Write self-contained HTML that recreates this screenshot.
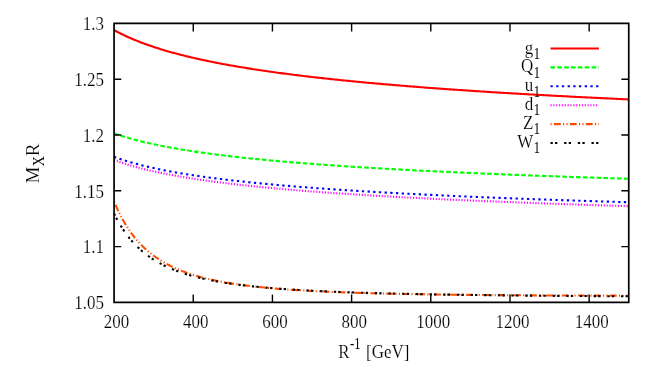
<!DOCTYPE html>
<html><head><meta charset="utf-8"><title>plot</title>
<style>html,body{margin:0;padding:0;background:#fff;}body{width:654px;height:382px;overflow:hidden;}svg{display:block;will-change:transform;}text{font-family:"Liberation Serif",serif;fill:#000;stroke:#fff;stroke-width:0.16px;paint-order:fill stroke;}text.s{stroke:none;}</style>
</head><body>
<svg width="654" height="382" viewBox="0 0 654 382">
<rect x="0" y="0" width="654" height="382" fill="#ffffff"/>
<g fill="none" stroke-width="2.10" stroke-linecap="butt" stroke-linejoin="round">
<path d="M114.10 30.11 L115.82 31.04 L117.54 31.96 L119.27 32.85 L120.99 33.71 L122.71 34.56 L124.43 35.38 L126.15 36.19 L127.88 36.97 L129.60 37.74 L131.32 38.49 L133.04 39.23 L134.76 39.94 L136.49 40.64 L138.21 41.33 L139.93 42.00 L141.65 42.66 L143.38 43.31 L145.10 43.94 L146.82 44.56 L148.54 45.17 L150.26 45.77 L151.99 46.35 L153.71 46.93 L155.43 47.49 L157.15 48.05 L158.87 48.59 L160.60 49.13 L162.32 49.66 L164.04 50.17 L165.76 50.68 L167.48 51.18 L169.21 51.68 L170.93 52.16 L172.65 52.64 L174.37 53.11 L176.09 53.57 L177.82 54.03 L179.54 54.48 L181.26 54.92 L182.98 55.35 L184.71 55.78 L186.43 56.21 L188.15 56.62 L189.87 57.04 L191.59 57.44 L193.32 57.84 L195.04 58.24 L196.76 58.63 L198.48 59.01 L200.20 59.39 L201.93 59.77 L203.65 60.14 L205.37 60.50 L207.09 60.86 L208.81 61.22 L210.54 61.57 L212.26 61.92 L213.98 62.26 L215.70 62.60 L217.42 62.94 L219.15 63.27 L220.87 63.60 L222.59 63.92 L224.31 64.24 L226.03 64.56 L227.76 64.87 L229.48 65.18 L231.20 65.49 L232.92 65.79 L234.65 66.09 L236.37 66.38 L238.09 66.68 L239.81 66.97 L241.53 67.26 L243.26 67.54 L244.98 67.82 L246.70 68.10 L248.42 68.38 L250.14 68.65 L251.87 68.92 L253.59 69.19 L255.31 69.45 L257.03 69.72 L258.75 69.98 L260.48 70.23 L262.20 70.49 L263.92 70.74 L265.64 70.99 L267.36 71.24 L269.09 71.49 L270.81 71.73 L272.53 71.97 L274.25 72.21 L275.97 72.45 L277.70 72.68 L279.42 72.92 L281.14 73.15 L282.86 73.38 L284.59 73.60 L286.31 73.83 L288.03 74.05 L289.75 74.27 L291.47 74.49 L293.20 74.71 L294.92 74.93 L296.64 75.14 L298.36 75.35 L300.08 75.57 L301.81 75.78 L303.53 75.98 L305.25 76.19 L306.97 76.39 L308.69 76.60 L310.42 76.80 L312.14 77.00 L313.86 77.19 L315.58 77.39 L317.30 77.59 L319.03 77.78 L320.75 77.97 L322.47 78.16 L324.19 78.35 L325.92 78.54 L327.64 78.73 L329.36 78.91 L331.08 79.10 L332.80 79.28 L334.53 79.46 L336.25 79.64 L337.97 79.82 L339.69 80.00 L341.41 80.17 L343.14 80.35 L344.86 80.52 L346.58 80.70 L348.30 80.87 L350.02 81.04 L351.75 81.21 L353.47 81.38 L355.19 81.54 L356.91 81.71 L358.63 81.87 L360.36 82.04 L362.08 82.20 L363.80 82.36 L365.52 82.52 L367.24 82.68 L368.97 82.84 L370.69 83.00 L372.41 83.16 L374.13 83.31 L375.86 83.47 L377.58 83.62 L379.30 83.77 L381.02 83.92 L382.74 84.08 L384.47 84.23 L386.19 84.37 L387.91 84.52 L389.63 84.67 L391.35 84.82 L393.08 84.96 L394.80 85.11 L396.52 85.25 L398.24 85.39 L399.96 85.54 L401.69 85.68 L403.41 85.82 L405.13 85.96 L406.85 86.10 L408.57 86.24 L410.30 86.37 L412.02 86.51 L413.74 86.65 L415.46 86.78 L417.18 86.92 L418.91 87.05 L420.63 87.18 L422.35 87.32 L424.07 87.45 L425.80 87.58 L427.52 87.71 L429.24 87.84 L430.96 87.97 L432.68 88.09 L434.41 88.22 L436.13 88.35 L437.85 88.47 L439.57 88.60 L441.29 88.72 L443.02 88.85 L444.74 88.97 L446.46 89.10 L448.18 89.22 L449.90 89.34 L451.63 89.46 L453.35 89.58 L455.07 89.70 L456.79 89.82 L458.51 89.94 L460.24 90.06 L461.96 90.17 L463.68 90.29 L465.40 90.41 L467.13 90.52 L468.85 90.64 L470.57 90.75 L472.29 90.87 L474.01 90.98 L475.74 91.09 L477.46 91.21 L479.18 91.32 L480.90 91.43 L482.62 91.54 L484.35 91.65 L486.07 91.76 L487.79 91.87 L489.51 91.98 L491.23 92.09 L492.96 92.19 L494.68 92.30 L496.40 92.41 L498.12 92.51 L499.84 92.62 L501.57 92.73 L503.29 92.83 L505.01 92.94 L506.73 93.04 L508.45 93.14 L510.18 93.25 L511.90 93.35 L513.62 93.45 L515.34 93.55 L517.07 93.65 L518.79 93.75 L520.51 93.86 L522.23 93.96 L523.95 94.05 L525.68 94.15 L527.40 94.25 L529.12 94.35 L530.84 94.45 L532.56 94.55 L534.29 94.64 L536.01 94.74 L537.73 94.84 L539.45 94.93 L541.17 95.03 L542.90 95.12 L544.62 95.22 L546.34 95.31 L548.06 95.41 L549.78 95.50 L551.51 95.59 L553.23 95.68 L554.95 95.78 L556.67 95.87 L558.39 95.96 L560.12 96.05 L561.84 96.14 L563.56 96.23 L565.28 96.32 L567.01 96.41 L568.73 96.50 L570.45 96.59 L572.17 96.68 L573.89 96.77 L575.62 96.86 L577.34 96.94 L579.06 97.03 L580.78 97.12 L582.50 97.21 L584.23 97.29 L585.95 97.38 L587.67 97.46 L589.39 97.55 L591.11 97.64 L592.84 97.72 L594.56 97.80 L596.28 97.89 L598.00 97.97 L599.72 98.06 L601.45 98.14 L603.17 98.22 L604.89 98.30 L606.61 98.39 L608.34 98.47 L610.06 98.55 L611.78 98.63 L613.50 98.71 L615.22 98.79 L616.95 98.87 L618.67 98.96 L620.39 99.04 L622.11 99.11 L623.83 99.19 L625.56 99.27 L627.28 99.35 L629.00 99.43" stroke="#ff0000"/>
<path d="M114.10 133.32 L115.82 133.93 L117.54 134.52 L119.27 135.10 L120.99 135.66 L122.71 136.20 L124.43 136.74 L126.15 137.26 L127.88 137.77 L129.60 138.26 L131.32 138.75 L133.04 139.22 L134.76 139.69 L136.49 140.14 L138.21 140.59 L139.93 141.03 L141.65 141.45 L143.38 141.87 L145.10 142.29 L146.82 142.69 L148.54 143.08 L150.26 143.47 L151.99 143.85 L153.71 144.23 L155.43 144.59 L157.15 144.96 L158.87 145.31 L160.60 145.66 L162.32 146.00 L164.04 146.34 L165.76 146.67 L167.48 147.00 L169.21 147.32 L170.93 147.63 L172.65 147.95 L174.37 148.25 L176.09 148.55 L177.82 148.85 L179.54 149.14 L181.26 149.43 L182.98 149.72 L184.71 150.00 L186.43 150.27 L188.15 150.55 L189.87 150.82 L191.59 151.08 L193.32 151.34 L195.04 151.60 L196.76 151.86 L198.48 152.11 L200.20 152.35 L201.93 152.60 L203.65 152.84 L205.37 153.08 L207.09 153.32 L208.81 153.55 L210.54 153.78 L212.26 154.01 L213.98 154.23 L215.70 154.45 L217.42 154.67 L219.15 154.89 L220.87 155.11 L222.59 155.32 L224.31 155.53 L226.03 155.74 L227.76 155.94 L229.48 156.14 L231.20 156.34 L232.92 156.54 L234.65 156.74 L236.37 156.93 L238.09 157.13 L239.81 157.32 L241.53 157.51 L243.26 157.69 L244.98 157.88 L246.70 158.06 L248.42 158.24 L250.14 158.42 L251.87 158.60 L253.59 158.77 L255.31 158.95 L257.03 159.12 L258.75 159.29 L260.48 159.46 L262.20 159.63 L263.92 159.79 L265.64 159.96 L267.36 160.12 L269.09 160.28 L270.81 160.44 L272.53 160.60 L274.25 160.76 L275.97 160.92 L277.70 161.07 L279.42 161.22 L281.14 161.38 L282.86 161.53 L284.59 161.68 L286.31 161.82 L288.03 161.97 L289.75 162.12 L291.47 162.26 L293.20 162.40 L294.92 162.55 L296.64 162.69 L298.36 162.83 L300.08 162.97 L301.81 163.10 L303.53 163.24 L305.25 163.38 L306.97 163.51 L308.69 163.65 L310.42 163.78 L312.14 163.91 L313.86 164.04 L315.58 164.17 L317.30 164.30 L319.03 164.43 L320.75 164.55 L322.47 164.68 L324.19 164.80 L325.92 164.93 L327.64 165.05 L329.36 165.17 L331.08 165.29 L332.80 165.41 L334.53 165.53 L336.25 165.65 L337.97 165.77 L339.69 165.89 L341.41 166.00 L343.14 166.12 L344.86 166.23 L346.58 166.35 L348.30 166.46 L350.02 166.57 L351.75 166.69 L353.47 166.80 L355.19 166.91 L356.91 167.02 L358.63 167.12 L360.36 167.23 L362.08 167.34 L363.80 167.45 L365.52 167.55 L367.24 167.66 L368.97 167.76 L370.69 167.87 L372.41 167.97 L374.13 168.07 L375.86 168.18 L377.58 168.28 L379.30 168.38 L381.02 168.48 L382.74 168.58 L384.47 168.68 L386.19 168.78 L387.91 168.87 L389.63 168.97 L391.35 169.07 L393.08 169.16 L394.80 169.26 L396.52 169.36 L398.24 169.45 L399.96 169.54 L401.69 169.64 L403.41 169.73 L405.13 169.82 L406.85 169.92 L408.57 170.01 L410.30 170.10 L412.02 170.19 L413.74 170.28 L415.46 170.37 L417.18 170.46 L418.91 170.55 L420.63 170.63 L422.35 170.72 L424.07 170.81 L425.80 170.89 L427.52 170.98 L429.24 171.07 L430.96 171.15 L432.68 171.24 L434.41 171.32 L436.13 171.40 L437.85 171.49 L439.57 171.57 L441.29 171.65 L443.02 171.74 L444.74 171.82 L446.46 171.90 L448.18 171.98 L449.90 172.06 L451.63 172.14 L453.35 172.22 L455.07 172.30 L456.79 172.38 L458.51 172.46 L460.24 172.53 L461.96 172.61 L463.68 172.69 L465.40 172.77 L467.13 172.84 L468.85 172.92 L470.57 173.00 L472.29 173.07 L474.01 173.15 L475.74 173.22 L477.46 173.30 L479.18 173.37 L480.90 173.44 L482.62 173.52 L484.35 173.59 L486.07 173.66 L487.79 173.74 L489.51 173.81 L491.23 173.88 L492.96 173.95 L494.68 174.02 L496.40 174.09 L498.12 174.16 L499.84 174.23 L501.57 174.30 L503.29 174.37 L505.01 174.44 L506.73 174.51 L508.45 174.58 L510.18 174.65 L511.90 174.72 L513.62 174.78 L515.34 174.85 L517.07 174.92 L518.79 174.99 L520.51 175.05 L522.23 175.12 L523.95 175.18 L525.68 175.25 L527.40 175.32 L529.12 175.38 L530.84 175.45 L532.56 175.51 L534.29 175.57 L536.01 175.64 L537.73 175.70 L539.45 175.77 L541.17 175.83 L542.90 175.89 L544.62 175.96 L546.34 176.02 L548.06 176.08 L549.78 176.14 L551.51 176.20 L553.23 176.27 L554.95 176.33 L556.67 176.39 L558.39 176.45 L560.12 176.51 L561.84 176.57 L563.56 176.63 L565.28 176.69 L567.01 176.75 L568.73 176.81 L570.45 176.87 L572.17 176.93 L573.89 176.99 L575.62 177.04 L577.34 177.10 L579.06 177.16 L580.78 177.22 L582.50 177.28 L584.23 177.33 L585.95 177.39 L587.67 177.45 L589.39 177.50 L591.11 177.56 L592.84 177.62 L594.56 177.67 L596.28 177.73 L598.00 177.79 L599.72 177.84 L601.45 177.90 L603.17 177.95 L604.89 178.01 L606.61 178.06 L608.34 178.12 L610.06 178.17 L611.78 178.22 L613.50 178.28 L615.22 178.33 L616.95 178.38 L618.67 178.44 L620.39 178.49 L622.11 178.54 L623.83 178.60 L625.56 178.65 L627.28 178.70 L629.00 178.75" stroke="#00ff00" stroke-dasharray="4.56 2.28"/>
<path d="M114.10 156.83 L115.82 157.46 L117.54 158.07 L119.27 158.67 L120.99 159.25 L122.71 159.81 L124.43 160.37 L126.15 160.90 L127.88 161.43 L129.60 161.94 L131.32 162.44 L133.04 162.93 L134.76 163.41 L136.49 163.88 L138.21 164.34 L139.93 164.78 L141.65 165.22 L143.38 165.65 L145.10 166.07 L146.82 166.49 L148.54 166.89 L150.26 167.29 L151.99 167.68 L153.71 168.06 L155.43 168.43 L157.15 168.80 L158.87 169.16 L160.60 169.52 L162.32 169.87 L164.04 170.21 L165.76 170.55 L167.48 170.88 L169.21 171.21 L170.93 171.53 L172.65 171.84 L174.37 172.15 L176.09 172.46 L177.82 172.76 L179.54 173.06 L181.26 173.35 L182.98 173.63 L184.71 173.92 L186.43 174.20 L188.15 174.47 L189.87 174.74 L191.59 175.01 L193.32 175.28 L195.04 175.54 L196.76 175.79 L198.48 176.04 L200.20 176.29 L201.93 176.54 L203.65 176.78 L205.37 177.02 L207.09 177.26 L208.81 177.50 L210.54 177.73 L212.26 177.96 L213.98 178.18 L215.70 178.40 L217.42 178.62 L219.15 178.84 L220.87 179.06 L222.59 179.27 L224.31 179.48 L226.03 179.69 L227.76 179.89 L229.48 180.09 L231.20 180.30 L232.92 180.49 L234.65 180.69 L236.37 180.88 L238.09 181.08 L239.81 181.27 L241.53 181.45 L243.26 181.64 L244.98 181.82 L246.70 182.01 L248.42 182.19 L250.14 182.37 L251.87 182.54 L253.59 182.72 L255.31 182.89 L257.03 183.06 L258.75 183.23 L260.48 183.40 L262.20 183.57 L263.92 183.73 L265.64 183.90 L267.36 184.06 L269.09 184.22 L270.81 184.38 L272.53 184.53 L274.25 184.69 L275.97 184.85 L277.70 185.00 L279.42 185.15 L281.14 185.30 L282.86 185.45 L284.59 185.60 L286.31 185.75 L288.03 185.89 L289.75 186.03 L291.47 186.18 L293.20 186.32 L294.92 186.46 L296.64 186.60 L298.36 186.74 L300.08 186.88 L301.81 187.01 L303.53 187.15 L305.25 187.28 L306.97 187.41 L308.69 187.54 L310.42 187.68 L312.14 187.81 L313.86 187.93 L315.58 188.06 L317.30 188.19 L319.03 188.31 L320.75 188.44 L322.47 188.56 L324.19 188.69 L325.92 188.81 L327.64 188.93 L329.36 189.05 L331.08 189.17 L332.80 189.29 L334.53 189.40 L336.25 189.52 L337.97 189.64 L339.69 189.75 L341.41 189.87 L343.14 189.98 L344.86 190.09 L346.58 190.21 L348.30 190.32 L350.02 190.43 L351.75 190.54 L353.47 190.65 L355.19 190.75 L356.91 190.86 L358.63 190.97 L360.36 191.07 L362.08 191.18 L363.80 191.28 L365.52 191.39 L367.24 191.49 L368.97 191.59 L370.69 191.70 L372.41 191.80 L374.13 191.90 L375.86 192.00 L377.58 192.10 L379.30 192.20 L381.02 192.30 L382.74 192.39 L384.47 192.49 L386.19 192.59 L387.91 192.68 L389.63 192.78 L391.35 192.87 L393.08 192.97 L394.80 193.06 L396.52 193.15 L398.24 193.25 L399.96 193.34 L401.69 193.43 L403.41 193.52 L405.13 193.61 L406.85 193.70 L408.57 193.79 L410.30 193.88 L412.02 193.97 L413.74 194.05 L415.46 194.14 L417.18 194.23 L418.91 194.31 L420.63 194.40 L422.35 194.48 L424.07 194.57 L425.80 194.65 L427.52 194.74 L429.24 194.82 L430.96 194.90 L432.68 194.99 L434.41 195.07 L436.13 195.15 L437.85 195.23 L439.57 195.31 L441.29 195.39 L443.02 195.47 L444.74 195.55 L446.46 195.63 L448.18 195.71 L449.90 195.79 L451.63 195.87 L453.35 195.94 L455.07 196.02 L456.79 196.10 L458.51 196.17 L460.24 196.25 L461.96 196.33 L463.68 196.40 L465.40 196.48 L467.13 196.55 L468.85 196.63 L470.57 196.70 L472.29 196.77 L474.01 196.85 L475.74 196.92 L477.46 196.99 L479.18 197.06 L480.90 197.13 L482.62 197.21 L484.35 197.28 L486.07 197.35 L487.79 197.42 L489.51 197.49 L491.23 197.56 L492.96 197.63 L494.68 197.69 L496.40 197.76 L498.12 197.83 L499.84 197.90 L501.57 197.97 L503.29 198.03 L505.01 198.10 L506.73 198.17 L508.45 198.24 L510.18 198.30 L511.90 198.37 L513.62 198.43 L515.34 198.50 L517.07 198.56 L518.79 198.63 L520.51 198.69 L522.23 198.76 L523.95 198.82 L525.68 198.88 L527.40 198.95 L529.12 199.01 L530.84 199.07 L532.56 199.14 L534.29 199.20 L536.01 199.26 L537.73 199.32 L539.45 199.38 L541.17 199.44 L542.90 199.51 L544.62 199.57 L546.34 199.63 L548.06 199.69 L549.78 199.75 L551.51 199.81 L553.23 199.87 L554.95 199.93 L556.67 199.98 L558.39 200.04 L560.12 200.10 L561.84 200.16 L563.56 200.22 L565.28 200.28 L567.01 200.33 L568.73 200.39 L570.45 200.45 L572.17 200.50 L573.89 200.56 L575.62 200.62 L577.34 200.67 L579.06 200.73 L580.78 200.79 L582.50 200.84 L584.23 200.90 L585.95 200.95 L587.67 201.01 L589.39 201.06 L591.11 201.12 L592.84 201.17 L594.56 201.22 L596.28 201.28 L598.00 201.33 L599.72 201.39 L601.45 201.44 L603.17 201.49 L604.89 201.54 L606.61 201.60 L608.34 201.65 L610.06 201.70 L611.78 201.75 L613.50 201.81 L615.22 201.86 L616.95 201.91 L618.67 201.96 L620.39 202.01 L622.11 202.06 L623.83 202.11 L625.56 202.16 L627.28 202.21 L629.00 202.26" stroke="#0000ff" stroke-dasharray="2.28 3.42"/>
<path d="M114.10 159.95 L115.82 160.59 L117.54 161.22 L119.27 161.82 L120.99 162.42 L122.71 162.99 L124.43 163.55 L126.15 164.10 L127.88 164.63 L129.60 165.16 L131.32 165.66 L133.04 166.16 L134.76 166.65 L136.49 167.13 L138.21 167.59 L139.93 168.05 L141.65 168.49 L143.38 168.93 L145.10 169.36 L146.82 169.78 L148.54 170.19 L150.26 170.59 L151.99 170.99 L153.71 171.38 L155.43 171.76 L157.15 172.13 L158.87 172.50 L160.60 172.86 L162.32 173.22 L164.04 173.56 L165.76 173.91 L167.48 174.24 L169.21 174.58 L170.93 174.90 L172.65 175.22 L174.37 175.54 L176.09 175.85 L177.82 176.16 L179.54 176.46 L181.26 176.76 L182.98 177.05 L184.71 177.34 L186.43 177.62 L188.15 177.90 L189.87 178.18 L191.59 178.45 L193.32 178.72 L195.04 178.98 L196.76 179.24 L198.48 179.50 L200.20 179.75 L201.93 180.00 L203.65 180.25 L205.37 180.50 L207.09 180.74 L208.81 180.97 L210.54 181.21 L212.26 181.44 L213.98 181.67 L215.70 181.90 L217.42 182.12 L219.15 182.34 L220.87 182.56 L222.59 182.78 L224.31 182.99 L226.03 183.20 L227.76 183.41 L229.48 183.62 L231.20 183.82 L232.92 184.02 L234.65 184.22 L236.37 184.42 L238.09 184.62 L239.81 184.81 L241.53 185.00 L243.26 185.19 L244.98 185.38 L246.70 185.56 L248.42 185.75 L250.14 185.93 L251.87 186.11 L253.59 186.29 L255.31 186.46 L257.03 186.64 L258.75 186.81 L260.48 186.98 L262.20 187.15 L263.92 187.32 L265.64 187.48 L267.36 187.65 L269.09 187.81 L270.81 187.97 L272.53 188.13 L274.25 188.29 L275.97 188.45 L277.70 188.61 L279.42 188.76 L281.14 188.91 L282.86 189.07 L284.59 189.22 L286.31 189.36 L288.03 189.51 L289.75 189.66 L291.47 189.80 L293.20 189.95 L294.92 190.09 L296.64 190.23 L298.36 190.37 L300.08 190.51 L301.81 190.65 L303.53 190.79 L305.25 190.93 L306.97 191.06 L308.69 191.20 L310.42 191.33 L312.14 191.46 L313.86 191.59 L315.58 191.72 L317.30 191.85 L319.03 191.98 L320.75 192.10 L322.47 192.23 L324.19 192.36 L325.92 192.48 L327.64 192.60 L329.36 192.73 L331.08 192.85 L332.80 192.97 L334.53 193.09 L336.25 193.21 L337.97 193.32 L339.69 193.44 L341.41 193.56 L343.14 193.67 L344.86 193.79 L346.58 193.90 L348.30 194.01 L350.02 194.13 L351.75 194.24 L353.47 194.35 L355.19 194.46 L356.91 194.57 L358.63 194.68 L360.36 194.79 L362.08 194.89 L363.80 195.00 L365.52 195.10 L367.24 195.21 L368.97 195.31 L370.69 195.42 L372.41 195.52 L374.13 195.62 L375.86 195.73 L377.58 195.83 L379.30 195.93 L381.02 196.03 L382.74 196.13 L384.47 196.22 L386.19 196.32 L387.91 196.42 L389.63 196.52 L391.35 196.61 L393.08 196.71 L394.80 196.80 L396.52 196.90 L398.24 196.99 L399.96 197.09 L401.69 197.18 L403.41 197.27 L405.13 197.36 L406.85 197.46 L408.57 197.55 L410.30 197.64 L412.02 197.73 L413.74 197.82 L415.46 197.90 L417.18 197.99 L418.91 198.08 L420.63 198.17 L422.35 198.25 L424.07 198.34 L425.80 198.43 L427.52 198.51 L429.24 198.60 L430.96 198.68 L432.68 198.76 L434.41 198.85 L436.13 198.93 L437.85 199.01 L439.57 199.10 L441.29 199.18 L443.02 199.26 L444.74 199.34 L446.46 199.42 L448.18 199.50 L449.90 199.58 L451.63 199.66 L453.35 199.74 L455.07 199.82 L456.79 199.90 L458.51 199.97 L460.24 200.05 L461.96 200.13 L463.68 200.20 L465.40 200.28 L467.13 200.36 L468.85 200.43 L470.57 200.51 L472.29 200.58 L474.01 200.65 L475.74 200.73 L477.46 200.80 L479.18 200.88 L480.90 200.95 L482.62 201.02 L484.35 201.09 L486.07 201.16 L487.79 201.24 L489.51 201.31 L491.23 201.38 L492.96 201.45 L494.68 201.52 L496.40 201.59 L498.12 201.66 L499.84 201.73 L501.57 201.80 L503.29 201.86 L505.01 201.93 L506.73 202.00 L508.45 202.07 L510.18 202.14 L511.90 202.20 L513.62 202.27 L515.34 202.34 L517.07 202.40 L518.79 202.47 L520.51 202.53 L522.23 202.60 L523.95 202.66 L525.68 202.73 L527.40 202.79 L529.12 202.86 L530.84 202.92 L532.56 202.98 L534.29 203.05 L536.01 203.11 L537.73 203.17 L539.45 203.24 L541.17 203.30 L542.90 203.36 L544.62 203.42 L546.34 203.48 L548.06 203.55 L549.78 203.61 L551.51 203.67 L553.23 203.73 L554.95 203.79 L556.67 203.85 L558.39 203.91 L560.12 203.97 L561.84 204.03 L563.56 204.08 L565.28 204.14 L567.01 204.20 L568.73 204.26 L570.45 204.32 L572.17 204.38 L573.89 204.43 L575.62 204.49 L577.34 204.55 L579.06 204.61 L580.78 204.66 L582.50 204.72 L584.23 204.78 L585.95 204.83 L587.67 204.89 L589.39 204.94 L591.11 205.00 L592.84 205.05 L594.56 205.11 L596.28 205.16 L598.00 205.22 L599.72 205.27 L601.45 205.33 L603.17 205.38 L604.89 205.43 L606.61 205.49 L608.34 205.54 L610.06 205.59 L611.78 205.65 L613.50 205.70 L615.22 205.75 L616.95 205.80 L618.67 205.86 L620.39 205.91 L622.11 205.96 L623.83 206.01 L625.56 206.06 L627.28 206.12 L629.00 206.17" stroke="#ff00ff" stroke-dasharray="1.14 1.71"/>
<path d="M114.10 201.57 L115.82 205.61 L117.54 209.42 L119.27 213.01 L120.99 216.38 L122.71 219.57 L124.43 222.59 L126.15 225.43 L127.88 228.13 L129.60 230.68 L131.32 233.11 L133.04 235.40 L134.76 237.59 L136.49 239.66 L138.21 241.63 L139.93 243.51 L141.65 245.30 L143.38 247.01 L145.10 248.64 L146.82 250.19 L148.54 251.68 L150.26 253.10 L151.99 254.46 L153.71 255.76 L155.43 257.00 L157.15 258.19 L158.87 259.34 L160.60 260.43 L162.32 261.49 L164.04 262.50 L165.76 263.47 L167.48 264.40 L169.21 265.30 L170.93 266.16 L172.65 266.99 L174.37 267.79 L176.09 268.57 L177.82 269.31 L179.54 270.02 L181.26 270.72 L182.98 271.38 L184.71 272.03 L186.43 272.65 L188.15 273.25 L189.87 273.83 L191.59 274.39 L193.32 274.93 L195.04 275.45 L196.76 275.96 L198.48 276.45 L200.20 276.93 L201.93 277.39 L203.65 277.83 L205.37 278.26 L207.09 278.68 L208.81 279.09 L210.54 279.48 L212.26 279.87 L213.98 280.24 L215.70 280.60 L217.42 280.94 L219.15 281.28 L220.87 281.61 L222.59 281.93 L224.31 282.24 L226.03 282.55 L227.76 282.84 L229.48 283.13 L231.20 283.41 L232.92 283.68 L234.65 283.94 L236.37 284.19 L238.09 284.44 L239.81 284.69 L241.53 284.92 L243.26 285.15 L244.98 285.38 L246.70 285.60 L248.42 285.81 L250.14 286.02 L251.87 286.22 L253.59 286.42 L255.31 286.61 L257.03 286.80 L258.75 286.98 L260.48 287.16 L262.20 287.33 L263.92 287.50 L265.64 287.67 L267.36 287.83 L269.09 287.99 L270.81 288.14 L272.53 288.30 L274.25 288.44 L275.97 288.59 L277.70 288.73 L279.42 288.87 L281.14 289.00 L282.86 289.13 L284.59 289.26 L286.31 289.39 L288.03 289.51 L289.75 289.63 L291.47 289.75 L293.20 289.86 L294.92 289.97 L296.64 290.08 L298.36 290.19 L300.08 290.30 L301.81 290.40 L303.53 290.50 L305.25 290.60 L306.97 290.70 L308.69 290.79 L310.42 290.89 L312.14 290.98 L313.86 291.07 L315.58 291.15 L317.30 291.24 L319.03 291.32 L320.75 291.40 L322.47 291.48 L324.19 291.56 L325.92 291.64 L327.64 291.72 L329.36 291.79 L331.08 291.86 L332.80 291.93 L334.53 292.00 L336.25 292.07 L337.97 292.14 L339.69 292.20 L341.41 292.27 L343.14 292.33 L344.86 292.39 L346.58 292.46 L348.30 292.52 L350.02 292.57 L351.75 292.63 L353.47 292.69 L355.19 292.74 L356.91 292.80 L358.63 292.85 L360.36 292.90 L362.08 292.96 L363.80 293.01 L365.52 293.06 L367.24 293.10 L368.97 293.15 L370.69 293.20 L372.41 293.24 L374.13 293.29 L375.86 293.33 L377.58 293.38 L379.30 293.42 L381.02 293.46 L382.74 293.50 L384.47 293.54 L386.19 293.58 L387.91 293.62 L389.63 293.66 L391.35 293.70 L393.08 293.74 L394.80 293.77 L396.52 293.81 L398.24 293.84 L399.96 293.88 L401.69 293.91 L403.41 293.95 L405.13 293.98 L406.85 294.01 L408.57 294.04 L410.30 294.07 L412.02 294.11 L413.74 294.14 L415.46 294.17 L417.18 294.19 L418.91 294.22 L420.63 294.25 L422.35 294.28 L424.07 294.31 L425.80 294.33 L427.52 294.36 L429.24 294.38 L430.96 294.41 L432.68 294.44 L434.41 294.46 L436.13 294.48 L437.85 294.51 L439.57 294.53 L441.29 294.55 L443.02 294.58 L444.74 294.60 L446.46 294.62 L448.18 294.64 L449.90 294.66 L451.63 294.68 L453.35 294.70 L455.07 294.72 L456.79 294.74 L458.51 294.76 L460.24 294.78 L461.96 294.80 L463.68 294.82 L465.40 294.84 L467.13 294.86 L468.85 294.87 L470.57 294.89 L472.29 294.91 L474.01 294.92 L475.74 294.94 L477.46 294.96 L479.18 294.97 L480.90 294.99 L482.62 295.00 L484.35 295.02 L486.07 295.03 L487.79 295.05 L489.51 295.06 L491.23 295.08 L492.96 295.09 L494.68 295.10 L496.40 295.12 L498.12 295.13 L499.84 295.14 L501.57 295.16 L503.29 295.17 L505.01 295.18 L506.73 295.19 L508.45 295.21 L510.18 295.22 L511.90 295.23 L513.62 295.24 L515.34 295.25 L517.07 295.26 L518.79 295.27 L520.51 295.29 L522.23 295.30 L523.95 295.31 L525.68 295.32 L527.40 295.33 L529.12 295.34 L530.84 295.35 L532.56 295.36 L534.29 295.36 L536.01 295.37 L537.73 295.38 L539.45 295.39 L541.17 295.40 L542.90 295.41 L544.62 295.42 L546.34 295.43 L548.06 295.43 L549.78 295.44 L551.51 295.45 L553.23 295.46 L554.95 295.46 L556.67 295.47 L558.39 295.48 L560.12 295.49 L561.84 295.49 L563.56 295.50 L565.28 295.51 L567.01 295.51 L568.73 295.52 L570.45 295.53 L572.17 295.53 L573.89 295.54 L575.62 295.55 L577.34 295.55 L579.06 295.56 L580.78 295.56 L582.50 295.57 L584.23 295.57 L585.95 295.58 L587.67 295.59 L589.39 295.59 L591.11 295.60 L592.84 295.60 L594.56 295.61 L596.28 295.61 L598.00 295.62 L599.72 295.62 L601.45 295.63 L603.17 295.63 L604.89 295.63 L606.61 295.64 L608.34 295.64 L610.06 295.65 L611.78 295.65 L613.50 295.65 L615.22 295.66 L616.95 295.66 L618.67 295.67 L620.39 295.67 L622.11 295.67 L623.83 295.68 L625.56 295.68 L627.28 295.68 L629.00 295.69" stroke="#ff4d00" stroke-dasharray="1.14 2.28 6.84 2.28 1.14 2.28"/>
<path d="M114.10 213.61 L115.82 217.04 L117.54 220.26 L119.27 223.30 L120.99 226.17 L122.71 228.87 L124.43 231.43 L126.15 233.84 L127.88 236.13 L129.60 238.30 L131.32 240.36 L133.04 242.31 L134.76 244.16 L136.49 245.93 L138.21 247.61 L139.93 249.21 L141.65 250.73 L143.38 252.19 L145.10 253.58 L146.82 254.90 L148.54 256.17 L150.26 257.38 L151.99 258.54 L153.71 259.66 L155.43 260.72 L157.15 261.74 L158.87 262.72 L160.60 263.66 L162.32 264.57 L164.04 265.44 L165.76 266.27 L167.48 267.08 L169.21 267.85 L170.93 268.59 L172.65 269.31 L174.37 270.00 L176.09 270.67 L177.82 271.31 L179.54 271.93 L181.26 272.53 L182.98 273.11 L184.71 273.67 L186.43 274.21 L188.15 274.73 L189.87 275.24 L191.59 275.72 L193.32 276.20 L195.04 276.66 L196.76 277.10 L198.48 277.53 L200.20 277.95 L201.93 278.35 L203.65 278.74 L205.37 279.12 L207.09 279.49 L208.81 279.85 L210.54 280.20 L212.26 280.54 L213.98 280.87 L215.70 281.19 L217.42 281.50 L219.15 281.80 L220.87 282.09 L222.59 282.38 L224.31 282.65 L226.03 282.92 L227.76 283.19 L229.48 283.44 L231.20 283.69 L232.92 283.94 L234.65 284.17 L236.37 284.41 L238.09 284.63 L239.81 284.85 L241.53 285.06 L243.26 285.27 L244.98 285.48 L246.70 285.68 L248.42 285.87 L250.14 286.06 L251.87 286.25 L253.59 286.43 L255.31 286.60 L257.03 286.78 L258.75 286.94 L260.48 287.11 L262.20 287.27 L263.92 287.43 L265.64 287.58 L267.36 287.73 L269.09 287.88 L270.81 288.02 L272.53 288.17 L274.25 288.30 L275.97 288.44 L277.70 288.57 L279.42 288.70 L281.14 288.83 L282.86 288.95 L284.59 289.07 L286.31 289.19 L288.03 289.31 L289.75 289.42 L291.47 289.54 L293.20 289.65 L294.92 289.75 L296.64 289.86 L298.36 289.96 L300.08 290.06 L301.81 290.16 L303.53 290.26 L305.25 290.36 L306.97 290.45 L308.69 290.54 L310.42 290.63 L312.14 290.72 L313.86 290.81 L315.58 290.90 L317.30 290.98 L319.03 291.06 L320.75 291.14 L322.47 291.22 L324.19 291.30 L325.92 291.38 L327.64 291.46 L329.36 291.53 L331.08 291.60 L332.80 291.67 L334.53 291.75 L336.25 291.81 L337.97 291.88 L339.69 291.95 L341.41 292.02 L343.14 292.08 L344.86 292.14 L346.58 292.21 L348.30 292.27 L350.02 292.33 L351.75 292.39 L353.47 292.45 L355.19 292.51 L356.91 292.56 L358.63 292.62 L360.36 292.67 L362.08 292.73 L363.80 292.78 L365.52 292.83 L367.24 292.89 L368.97 292.94 L370.69 292.99 L372.41 293.04 L374.13 293.08 L375.86 293.13 L377.58 293.18 L379.30 293.23 L381.02 293.27 L382.74 293.32 L384.47 293.36 L386.19 293.41 L387.91 293.45 L389.63 293.49 L391.35 293.53 L393.08 293.57 L394.80 293.62 L396.52 293.66 L398.24 293.70 L399.96 293.73 L401.69 293.77 L403.41 293.81 L405.13 293.85 L406.85 293.89 L408.57 293.92 L410.30 293.96 L412.02 293.99 L413.74 294.03 L415.46 294.06 L417.18 294.10 L418.91 294.13 L420.63 294.16 L422.35 294.20 L424.07 294.23 L425.80 294.26 L427.52 294.29 L429.24 294.32 L430.96 294.35 L432.68 294.38 L434.41 294.41 L436.13 294.44 L437.85 294.47 L439.57 294.50 L441.29 294.53 L443.02 294.56 L444.74 294.59 L446.46 294.61 L448.18 294.64 L449.90 294.67 L451.63 294.69 L453.35 294.72 L455.07 294.74 L456.79 294.77 L458.51 294.79 L460.24 294.82 L461.96 294.84 L463.68 294.87 L465.40 294.89 L467.13 294.92 L468.85 294.94 L470.57 294.96 L472.29 294.98 L474.01 295.01 L475.74 295.03 L477.46 295.05 L479.18 295.07 L480.90 295.09 L482.62 295.12 L484.35 295.14 L486.07 295.16 L487.79 295.18 L489.51 295.20 L491.23 295.22 L492.96 295.24 L494.68 295.26 L496.40 295.28 L498.12 295.30 L499.84 295.32 L501.57 295.33 L503.29 295.35 L505.01 295.37 L506.73 295.39 L508.45 295.41 L510.18 295.43 L511.90 295.44 L513.62 295.46 L515.34 295.48 L517.07 295.49 L518.79 295.51 L520.51 295.53 L522.23 295.54 L523.95 295.56 L525.68 295.58 L527.40 295.59 L529.12 295.61 L530.84 295.62 L532.56 295.64 L534.29 295.66 L536.01 295.67 L537.73 295.69 L539.45 295.70 L541.17 295.72 L542.90 295.73 L544.62 295.74 L546.34 295.76 L548.06 295.77 L549.78 295.79 L551.51 295.80 L553.23 295.81 L554.95 295.83 L556.67 295.84 L558.39 295.85 L560.12 295.87 L561.84 295.88 L563.56 295.89 L565.28 295.91 L567.01 295.92 L568.73 295.93 L570.45 295.94 L572.17 295.96 L573.89 295.97 L575.62 295.98 L577.34 295.99 L579.06 296.00 L580.78 296.02 L582.50 296.03 L584.23 296.04 L585.95 296.05 L587.67 296.06 L589.39 296.07 L591.11 296.08 L592.84 296.10 L594.56 296.11 L596.28 296.12 L598.00 296.13 L599.72 296.14 L601.45 296.15 L603.17 296.16 L604.89 296.17 L606.61 296.18 L608.34 296.19 L610.06 296.20 L611.78 296.21 L613.50 296.22 L615.22 296.23 L616.95 296.24 L618.67 296.25 L620.39 296.26 L622.11 296.27 L623.83 296.28 L625.56 296.29 L627.28 296.30 L629.00 296.31" stroke="#000000" stroke-dasharray="2.28 2.28 2.28 6.84"/>
</g>
<g fill="none" stroke-width="2.10" stroke-linecap="butt">
<path d="M550.50 48.50 L598.90 48.50" stroke="#ff0000"/>
<path d="M550.50 67.40 L598.90 67.40" stroke="#00ff00" stroke-dasharray="4.56 2.28"/>
<path d="M550.50 86.30 L598.90 86.30" stroke="#0000ff" stroke-dasharray="2.28 3.42"/>
<path d="M550.50 105.20 L598.90 105.20" stroke="#ff00ff" stroke-dasharray="1.14 1.71"/>
<path d="M550.50 124.10 L598.90 124.10" stroke="#ff4d00" stroke-dasharray="1.14 2.28 6.84 2.28 1.14 2.28"/>
<path d="M550.50 143.00 L598.90 143.00" stroke="#000000" stroke-dasharray="2.28 2.28 2.28 6.84"/>
</g>
<g fill="none" stroke="#000" stroke-width="1.70" stroke-linecap="square">
<path d="M114.07 23.40 H628.75 V302.40 H114.07 Z"/>
<path d="M193.25 302.40 v-8.00 M193.25 23.40 v8.00" stroke-linecap="butt" stroke-width="1.40"/>
<path d="M272.43 302.40 v-8.00 M272.43 23.40 v8.00" stroke-linecap="butt" stroke-width="1.40"/>
<path d="M351.61 302.40 v-8.00 M351.61 23.40 v8.00" stroke-linecap="butt" stroke-width="1.40"/>
<path d="M430.80 302.40 v-8.00 M430.80 23.40 v8.00" stroke-linecap="butt" stroke-width="1.40"/>
<path d="M509.98 302.40 v-8.00 M509.98 23.40 v8.00" stroke-linecap="butt" stroke-width="1.40"/>
<path d="M589.16 302.40 v-8.00 M589.16 23.40 v8.00" stroke-linecap="butt" stroke-width="1.40"/>
<path d="M114.07 246.60 h7.20 M628.75 246.60 h-7.40" stroke-linecap="butt" stroke-width="1.40"/>
<path d="M114.07 190.80 h7.20 M628.75 190.80 h-7.40" stroke-linecap="butt" stroke-width="1.40"/>
<path d="M114.07 135.00 h7.20 M628.75 135.00 h-7.40" stroke-linecap="butt" stroke-width="1.40"/>
<path d="M114.07 79.20 h7.20 M628.75 79.20 h-7.40" stroke-linecap="butt" stroke-width="1.40"/>
</g>
<g>
<text transform="translate(74.15 309.15) scale(1.000 1.120)" font-size="17.00">1.05</text>
<text transform="translate(82.65 253.35) scale(1.000 1.120)" font-size="17.00">1.1</text>
<text transform="translate(74.15 197.55) scale(1.000 1.120)" font-size="17.00">1.15</text>
<text transform="translate(82.65 141.75) scale(1.000 1.120)" font-size="17.00">1.2</text>
<text transform="translate(74.15 85.95) scale(1.000 1.120)" font-size="17.00">1.25</text>
<text transform="translate(82.65 30.15) scale(1.000 1.120)" font-size="17.00">1.3</text>
<text transform="translate(103.75 327.80) scale(1.000 1.120)" font-size="17.00">200</text>
<text transform="translate(182.97 327.80) scale(1.000 1.120)" font-size="17.00">400</text>
<text transform="translate(262.18 327.80) scale(1.000 1.120)" font-size="17.00">600</text>
<text transform="translate(341.40 327.80) scale(1.000 1.120)" font-size="17.00">800</text>
<text transform="translate(416.36 327.80) scale(1.000 1.120)" font-size="17.00">1000</text>
<text transform="translate(495.58 327.80) scale(1.000 1.120)" font-size="17.00">1200</text>
<text transform="translate(574.79 327.80) scale(1.000 1.120)" font-size="17.00">1400</text>
<text transform="translate(338.30 357.80) scale(1.000 1.120)" font-size="17.00">R</text>
<text transform="translate(350.04 348.80) scale(0.920 1.254)" font-size="13.60" class="s">-1</text>
<text transform="translate(366.11 357.80) scale(1.000 1.120)" font-size="17.00">[GeV]</text>
<text transform="translate(39.20 183.60) rotate(-90) scale(1.120 1.080)" font-size="17.00">M</text>
<text transform="translate(44.40 166.27) rotate(-90) scale(1.030 1.210)" font-size="13.60" class="s">X</text>
<text transform="translate(39.20 156.15) rotate(-90) scale(1.120 1.080)" font-size="17.00">R</text>
<text transform="translate(524.84 53.50) scale(1.000 1.120)" font-size="17.00">g</text>
<text transform="translate(533.74 58.70) scale(0.920 1.254)" font-size="13.60" class="s">1</text>
<text transform="translate(521.07 72.40) scale(1.000 1.120)" font-size="17.00">Q</text>
<text transform="translate(533.74 77.60) scale(0.920 1.254)" font-size="13.60" class="s">1</text>
<text transform="translate(524.84 91.30) scale(1.000 1.120)" font-size="17.00">u</text>
<text transform="translate(533.74 96.50) scale(0.920 1.254)" font-size="13.60" class="s">1</text>
<text transform="translate(524.84 110.20) scale(1.000 1.120)" font-size="17.00">d</text>
<text transform="translate(533.74 115.40) scale(0.920 1.254)" font-size="13.60" class="s">1</text>
<text transform="translate(522.96 129.10) scale(1.000 1.120)" font-size="17.00">Z</text>
<text transform="translate(533.74 134.30) scale(0.920 1.254)" font-size="13.60" class="s">1</text>
<text transform="translate(517.30 148.00) scale(1.000 1.120)" font-size="17.00">W</text>
<text transform="translate(533.74 153.20) scale(0.920 1.254)" font-size="13.60" class="s">1</text>
</g>
</svg></body></html>
